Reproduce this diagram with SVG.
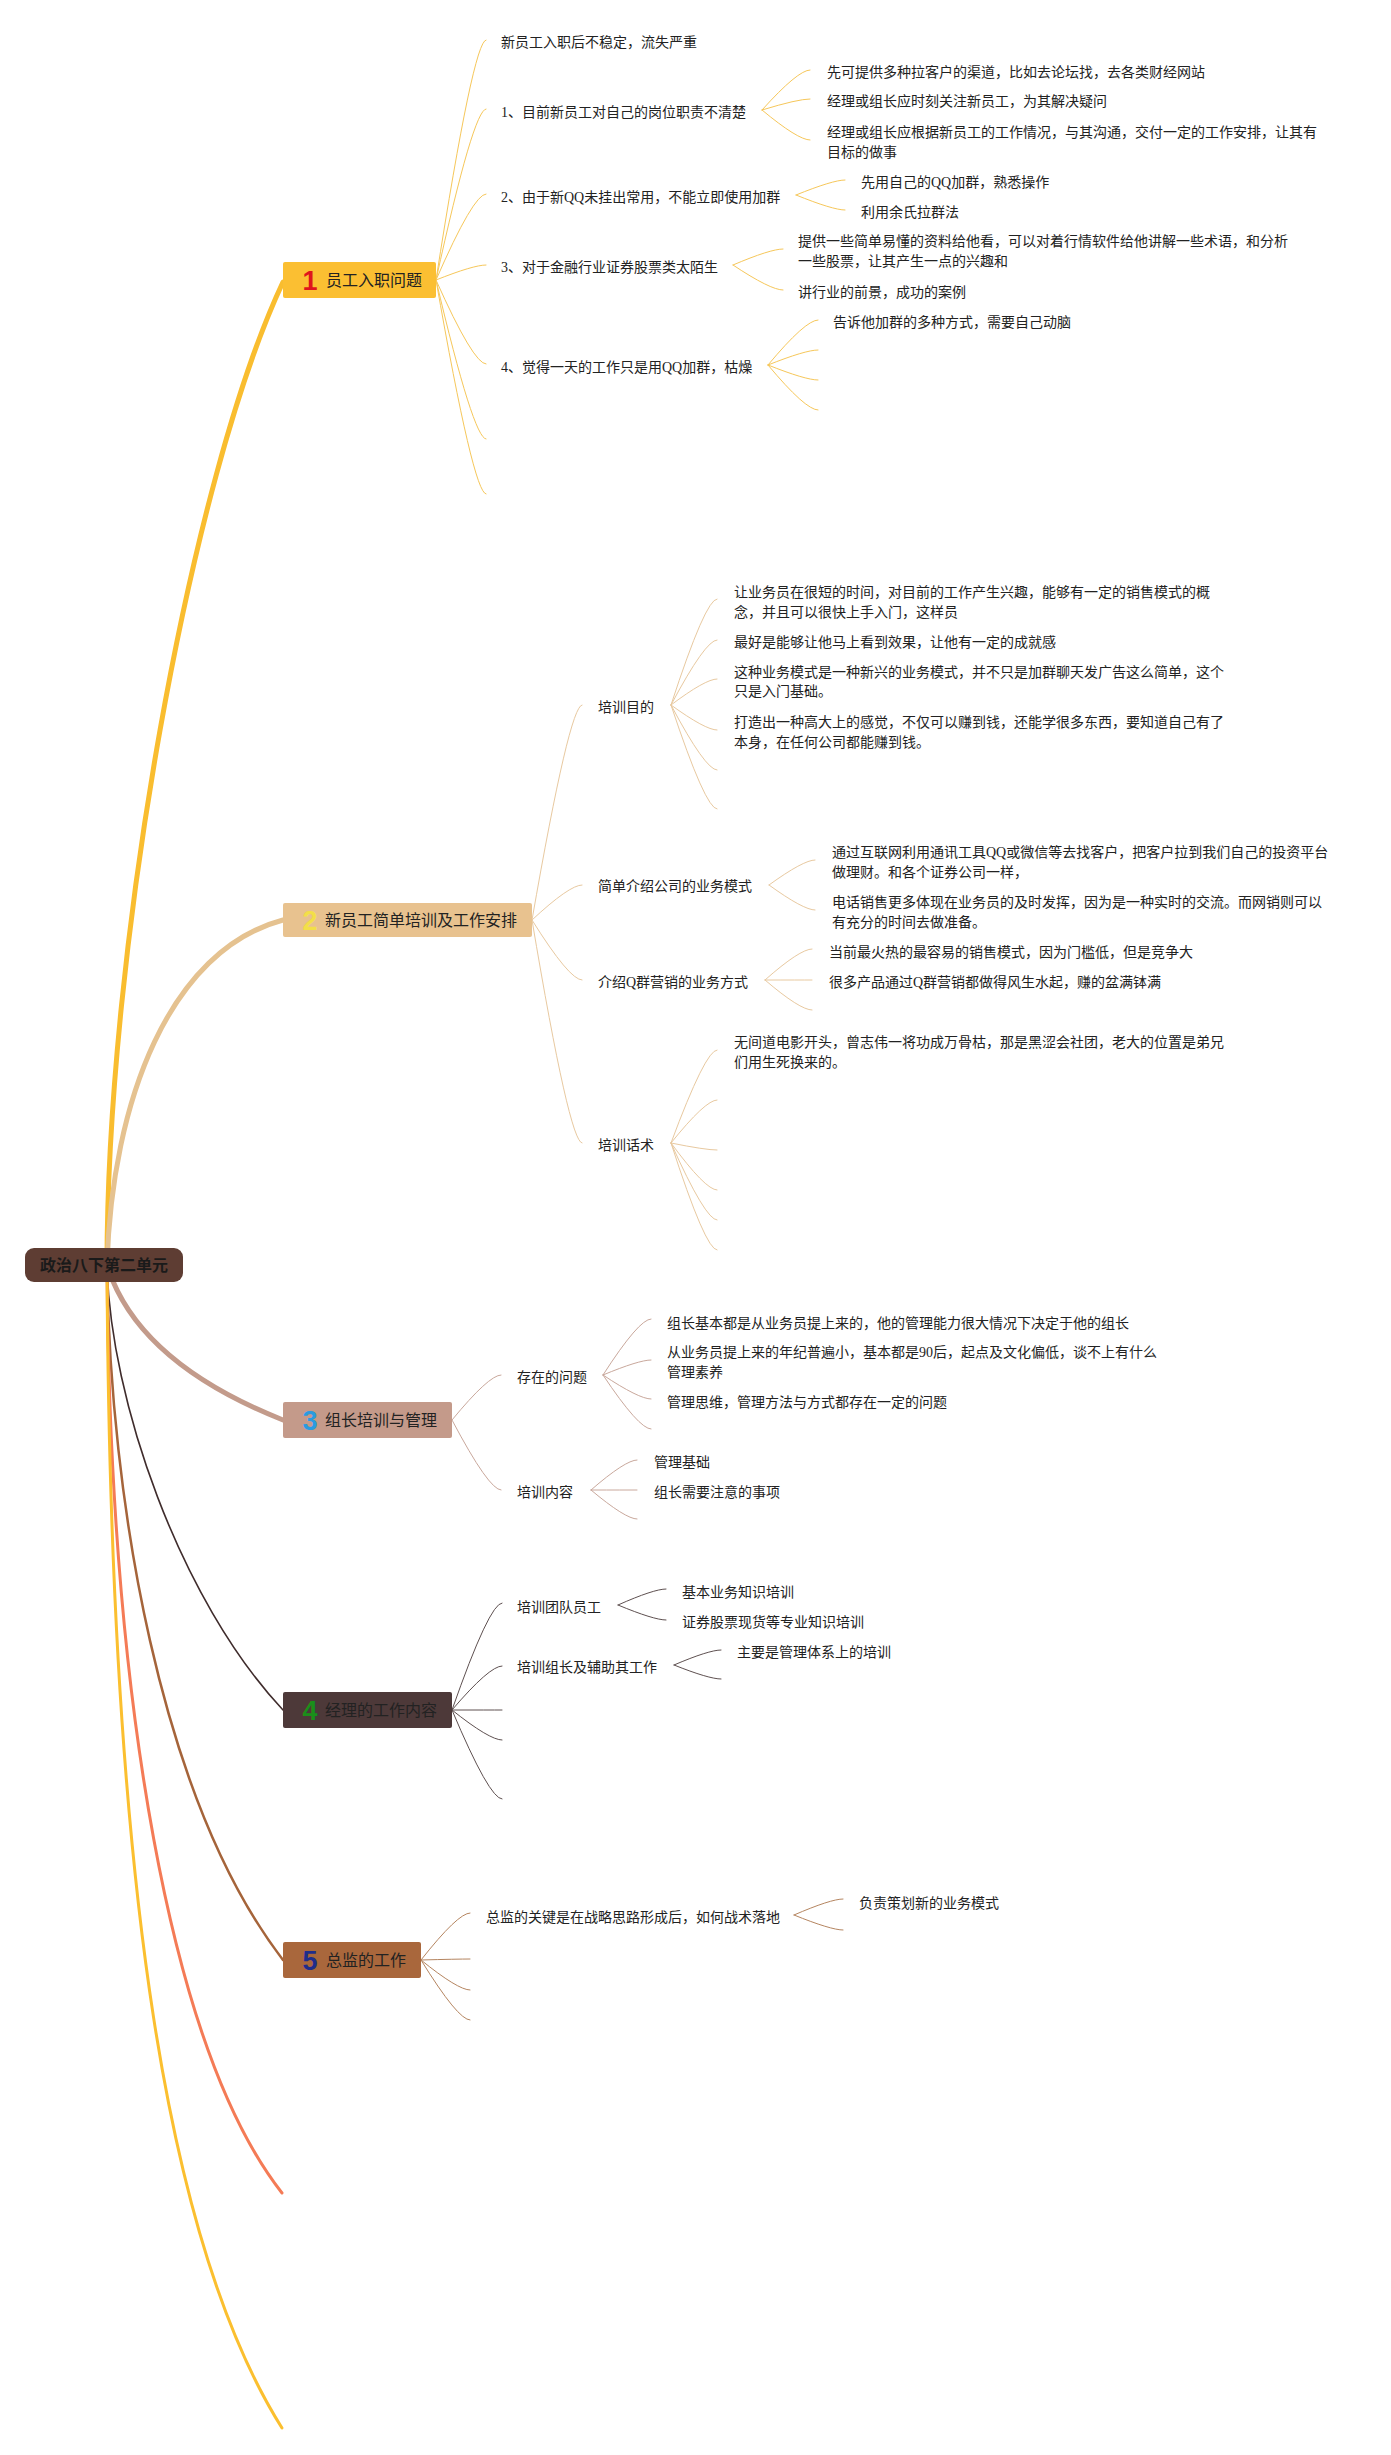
<svg xmlns="http://www.w3.org/2000/svg" width="1391" height="2455" viewBox="0 0 1391 2455">
<style>
.t{font-family:"Liberation Serif","Noto Sans CJK SC",serif;font-size:14px;fill:#222}
.n{font-family:"Liberation Sans","Noto Sans CJK SC",sans-serif;font-size:16px;fill:#222}
.num{font-family:"Liberation Sans","DejaVu Sans",sans-serif;font-weight:bold;font-size:27px}
.root{font-family:"Liberation Sans","Noto Sans CJK SC",sans-serif;font-size:16px;font-weight:bold;fill:#1a1a1a}
path{fill:none;stroke-linecap:round}
.c1 path{stroke:#f6c75a;stroke-width:1}
.c2 path{stroke:#e8c9a0;stroke-width:1}
.c3 path{stroke:#c9a89c;stroke-width:1}
.c4 path{stroke:#5e5050;stroke-width:1}
.c5 path{stroke:#b58560;stroke-width:1}
</style>
<rect width="1391" height="2455" fill="#fff"/>
<g id="connectors">
  <g id="main-branches">
    <path d="M107,1265 C107,950 190,480 283,282" stroke="#f9bd2f" stroke-width="5"/>
    <path d="M107,1265 C112,1100 170,950 283,920" stroke="#e5c290" stroke-width="5"/>
    <path d="M107,1265 Q137,1362 283,1420" stroke="#c39b8b" stroke-width="5"/>
    <path d="M107,1265 C110,1400 180,1600 283,1710" stroke="#3f2c2c" stroke-width="1.6"/>
    <path d="M107,1265 C110,1500 160,1800 283,1960" stroke="#a5643a" stroke-width="2.5"/>
    <path d="M107,1265 C110,1700 170,2050 282,2193" stroke="#f47b56" stroke-width="3"/>
    <path d="M107,1265 C110,1900 170,2250 282,2428" stroke="#fbbf2f" stroke-width="3"/>
  </g>
  <g class="c1">
    <path d="M436,280 Q473.5,40 486,40"/>
    <path d="M436,280 Q473.5,109 486,109"/>
    <path d="M436,280 Q473.5,194 486,194"/>
    <path d="M436,280 Q473.5,265 486,265"/>
    <path d="M436,280 Q473.5,364 486,364"/>
    <path d="M436,280 Q473.5,439 486,439"/>
    <path d="M436,280 Q473.5,494 486,494"/>
    <path d="M762,110 Q798,70 810,70"/>
    <path d="M762,110 Q798,99 810,99"/>
    <path d="M762,110 Q798,140 810,140"/>
    <path d="M796,195 Q833,180 845,180"/>
    <path d="M796,195 Q833,210 845,210"/>
    <path d="M733,265 Q770.5,249 783,249"/>
    <path d="M733,265 Q770.5,290 783,290"/>
    <path d="M768,365 Q805.5,320 818,320"/>
    <path d="M768,365 Q805.5,350 818,350"/>
    <path d="M768,365 Q805.5,380 818,380"/>
    <path d="M768,365 Q805.5,410 818,410"/>
  </g>
  <g class="c2">
    <path d="M532,920 Q569.5,705 582,705"/>
    <path d="M532,920 Q569.5,885 582,885"/>
    <path d="M532,920 Q569.5,980 582,980"/>
    <path d="M532,920 Q569.5,1143 582,1143"/>
    <path d="M671,705 Q705.5,599 717,599"/>
    <path d="M671,705 Q705.5,640 717,640"/>
    <path d="M671,705 Q705.5,679 717,679"/>
    <path d="M671,705 Q705.5,730 717,730"/>
    <path d="M671,705 Q705.5,770 717,770"/>
    <path d="M671,705 Q705.5,809 717,809"/>
    <path d="M769,885 Q803.5,860 815,860"/>
    <path d="M769,885 Q803.5,910 815,910"/>
    <path d="M765,980 Q800,949 812,949"/>
    <path d="M765,980 Q800,980 812,980"/>
    <path d="M765,980 Q800,1010 812,1010"/>
    <path d="M671,1143 Q705.5,1050 717,1050"/>
    <path d="M671,1143 Q705.5,1100 717,1100"/>
    <path d="M671,1143 Q705.5,1150 717,1150"/>
    <path d="M671,1143 Q705.5,1190 717,1190"/>
    <path d="M671,1143 Q705.5,1220 717,1220"/>
    <path d="M671,1143 Q705.5,1250 717,1250"/>
  </g>
  <g class="c3">
    <path d="M452,1420 Q489,1375 501,1375"/>
    <path d="M452,1420 Q489,1490 501,1490"/>
    <path d="M603,1375 Q639,1319 651,1319"/>
    <path d="M603,1375 Q639,1360 651,1360"/>
    <path d="M603,1375 Q639,1399 651,1399"/>
    <path d="M603,1375 Q639,1429 651,1429"/>
    <path d="M591,1490 Q625.5,1460 637,1460"/>
    <path d="M591,1490 Q625.5,1490 637,1490"/>
    <path d="M591,1490 Q625.5,1519 637,1519"/>
  </g>
  <g class="c4">
    <path d="M452,1710 Q489.5,1603 502,1603"/>
    <path d="M452,1710 Q489.5,1666 502,1666"/>
    <path d="M452,1710 Q489.5,1710 502,1710"/>
    <path d="M452,1710 Q489.5,1740 502,1740"/>
    <path d="M452,1710 Q489.5,1799 502,1799"/>
    <path d="M618,1605 Q654,1589 666,1589"/>
    <path d="M618,1605 Q654,1620 666,1620"/>
    <path d="M674,1665 Q709,1650 721,1650"/>
    <path d="M674,1665 Q709,1679 721,1679"/>
  </g>
  <g class="c5">
    <path d="M421,1960 Q458,1913 470,1913"/>
    <path d="M421,1960 Q458,1959 470,1959"/>
    <path d="M421,1960 Q458,1990 470,1990"/>
    <path d="M421,1960 Q458,2020 470,2020"/>
    <path d="M794,1915 Q831,1899 843,1899"/>
    <path d="M794,1915 Q831,1930 843,1930"/>
  </g>
</g>

<g id="root">
  <rect x="25" y="1248" width="158" height="34" rx="9" fill="#5e3d33"/>
  <text class="root" x="104" y="1271" text-anchor="middle">政治八下第二单元</text>
</g>

<g id="node1">
  <rect x="283" y="262" width="153" height="36" rx="2" fill="#fbbf32"/>
  <text class="num" x="310" y="290" text-anchor="middle" fill="#e0141c">1</text>
  <text class="n" x="326" y="286">员工入职问题</text>
</g>
<g id="node1-children">
  <text class="t" x="501" y="47">新员工入职后不稳定，流失严重</text>
  <text class="t" x="501" y="117">1、目前新员工对自己的岗位职责不清楚</text>
  <text class="t" x="501" y="202">2、由于新QQ未挂出常用，不能立即使用加群</text>
  <text class="t" x="501" y="272">3、对于金融行业证券股票类太陌生</text>
  <text class="t" x="501" y="372">4、觉得一天的工作只是用QQ加群，枯燥</text>
  <text class="t" x="827" y="77">先可提供多种拉客户的渠道，比如去论坛找，去各类财经网站</text>
  <text class="t" x="827" y="106">经理或组长应时刻关注新员工，为其解决疑问</text>
  <text class="t" x="827" y="137">经理或组长应根据新员工的工作情况，与其沟通，交付一定的工作安排，让其有</text>
  <text class="t" x="827" y="157">目标的做事</text>
  <text class="t" x="861" y="187">先用自己的QQ加群，熟悉操作</text>
  <text class="t" x="861" y="217">利用余氏拉群法</text>
  <text class="t" x="798" y="246">提供一些简单易懂的资料给他看，可以对着行情软件给他讲解一些术语，和分析</text>
  <text class="t" x="798" y="266">一些股票，让其产生一点的兴趣和</text>
  <text class="t" x="798" y="297">讲行业的前景，成功的案例</text>
  <text class="t" x="833" y="327">告诉他加群的多种方式，需要自己动脑</text>
</g>

<g id="node2">
  <rect x="283" y="903" width="249" height="34" rx="2" fill="#e8c28f"/>
  <text class="num" x="310" y="930" text-anchor="middle" fill="#f3df48">2</text>
  <text class="n" x="325" y="926">新员工简单培训及工作安排</text>
</g>
<g id="node2-children">
  <text class="t" x="598" y="712">培训目的</text>
  <text class="t" x="598" y="891">简单介绍公司的业务模式</text>
  <text class="t" x="598" y="987">介绍Q群营销的业务方式</text>
  <text class="t" x="598" y="1150">培训话术</text>
  <text class="t" x="734" y="597">让业务员在很短的时间，对目前的工作产生兴趣，能够有一定的销售模式的概</text>
  <text class="t" x="734" y="617">念，并且可以很快上手入门，这样员</text>
  <text class="t" x="734" y="647">最好是能够让他马上看到效果，让他有一定的成就感</text>
  <text class="t" x="734" y="677">这种业务模式是一种新兴的业务模式，并不只是加群聊天发广告这么简单，这个</text>
  <text class="t" x="734" y="696">只是入门基础。</text>
  <text class="t" x="734" y="727">打造出一种高大上的感觉，不仅可以赚到钱，还能学很多东西，要知道自己有了</text>
  <text class="t" x="734" y="747">本身，在任何公司都能赚到钱。</text>
  <text class="t" x="832" y="857">通过互联网利用通讯工具QQ或微信等去找客户，把客户拉到我们自己的投资平台</text>
  <text class="t" x="832" y="877">做理财。和各个证券公司一样，</text>
  <text class="t" x="832" y="907">电话销售更多体现在业务员的及时发挥，因为是一种实时的交流。而网销则可以</text>
  <text class="t" x="832" y="927">有充分的时间去做准备。</text>
  <text class="t" x="829" y="957">当前最火热的最容易的销售模式，因为门槛低，但是竞争大</text>
  <text class="t" x="829" y="987">很多产品通过Q群营销都做得风生水起，赚的盆满钵满</text>
  <text class="t" x="734" y="1047">无间道电影开头，曾志伟一将功成万骨枯，那是黑涩会社团，老大的位置是弟兄</text>
  <text class="t" x="734" y="1067">们用生死换来的。</text>
</g>

<g id="node3">
  <rect x="283" y="1402" width="169" height="36" rx="2" fill="#c49a8a"/>
  <text class="num" x="310" y="1430" text-anchor="middle" fill="#2a9be0">3</text>
  <text class="n" x="325" y="1426">组长培训与管理</text>
</g>
<g id="node3-children">
  <text class="t" x="517" y="1382">存在的问题</text>
  <text class="t" x="517" y="1497">培训内容</text>
  <text class="t" x="667" y="1328">组长基本都是从业务员提上来的，他的管理能力很大情况下决定于他的组长</text>
  <text class="t" x="667" y="1357">从业务员提上来的年纪普遍小，基本都是90后，起点及文化偏低，谈不上有什么</text>
  <text class="t" x="667" y="1377">管理素养</text>
  <text class="t" x="667" y="1407">管理思维，管理方法与方式都存在一定的问题</text>
  <text class="t" x="654" y="1467">管理基础</text>
  <text class="t" x="654" y="1497">组长需要注意的事项</text>
</g>

<g id="node4">
  <rect x="283" y="1692" width="169" height="36" rx="2" fill="#4d3939"/>
  <text class="num" x="310" y="1720" text-anchor="middle" fill="#1a8f1a">4</text>
  <text class="n" x="325" y="1716" fill="#111">经理的工作内容</text>
</g>
<g id="node4-children">
  <text class="t" x="517" y="1612">培训团队员工</text>
  <text class="t" x="517" y="1672">培训组长及辅助其工作</text>
  <text class="t" x="682" y="1597">基本业务知识培训</text>
  <text class="t" x="682" y="1627">证券股票现货等专业知识培训</text>
  <text class="t" x="737" y="1657">主要是管理体系上的培训</text>
</g>

<g id="node5">
  <rect x="283" y="1942" width="138" height="36" rx="2" fill="#a9673c"/>
  <text class="num" x="310" y="1970" text-anchor="middle" fill="#1f2d8a">5</text>
  <text class="n" x="326" y="1966">总监的工作</text>
</g>
<g id="node5-children">
  <text class="t" x="486" y="1922">总监的关键是在战略思路形成后，如何战术落地</text>
  <text class="t" x="859" y="1908">负责策划新的业务模式</text>
</g>
</svg>
